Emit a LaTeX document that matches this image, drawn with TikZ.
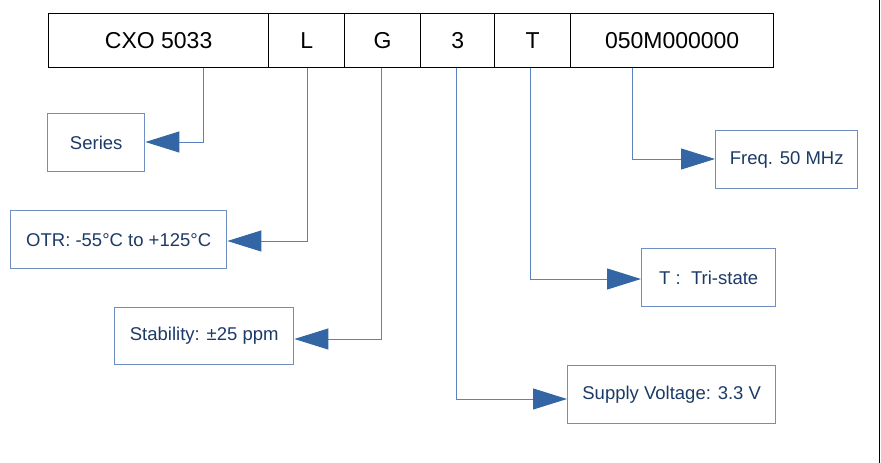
\documentclass[tikz,border=0pt]{standalone}
\usepackage{fontspec}
\setmainfont{Liberation Sans}
\usetikzlibrary{arrows.meta}
\definecolor{boxblue}{HTML}{6F8FC2}
\definecolor{linkblue}{HTML}{5B82BE}
\definecolor{tipblue}{HTML}{3465A4}
\definecolor{txtblue}{HTML}{1B3A66}
\tikzset{
  cell/.style={draw=black, line width=1.3pt, anchor=north west, minimum height=54pt, inner sep=0pt,
    font=\fontsize{23}{27}\selectfont, text=black},
  infobox/.style={draw=boxblue, line width=1.4pt, anchor=north west, inner sep=0pt,
    font=\fontsize{18.5}{22}\selectfont, text=txtblue},
  conn/.style={draw=linkblue, line width=1pt,
    -{Triangle[length=34pt,width=21pt,fill=tipblue,color=tipblue]}}
}
\begin{document}
\begin{tikzpicture}[x=1pt,y=-1pt]
\useasboundingbox (0,0) rectangle (881,463);
% top code row
\node[cell, minimum width=220pt] (cxo) at (48,13) {CXO 5033};
\node[cell, minimum width=76pt] (cl) at (268,13) {L};
\node[cell, minimum width=76pt] (cg) at (344,13) {G};
\node[cell, minimum width=74pt] (c3) at (420,13) {3};
\node[cell, minimum width=76pt] (ct) at (494,13) {T};
\node[cell, minimum width=203pt] (cf) at (570,13) {050M000000};
% info boxes
\node[infobox, minimum width=97pt, minimum height=58pt] (series) at (47,113) {Series};
\node[infobox, minimum width=216pt, minimum height=58pt] (otr) at (10,210) {OTR: -55°C to +125°C};
\node[infobox, minimum width=179pt, minimum height=57pt] (stab) at (114,307) {Stability: ±25 ppm};
\node[infobox, minimum width=142pt, minimum height=58pt] (freq) at (715,130) {Freq. 50 MHz};
\node[infobox, minimum width=134pt, minimum height=58pt] (tri) at (641,248) {T :~~Tri-state};
\node[infobox, minimum width=208pt, minimum height=58pt] (sup) at (567,365) {Supply Voltage: 3.3 V};
% connectors
\draw[conn] (cxo.south -| 203,0) |- (series.east |- 0,142);
\draw[conn] (cl.south -| 307.5,0) |- (otr.east |- 0,241);
\draw[conn] (cg.south -| 381.5,0) |- (stab.east |- 0,339);
\draw[conn] (c3.south -| 456,0) |- (sup.west |- 0,399);
\draw[conn] (ct.south -| 530,0) |- (tri.west |- 0,279);
\draw[conn] (cf.south -| 632.5,0) |- (freq.west |- 0,159);
% right edge line
\draw[black, line width=1pt] (879.5,0) -- (879.5,463);
\end{tikzpicture}
\end{document}
